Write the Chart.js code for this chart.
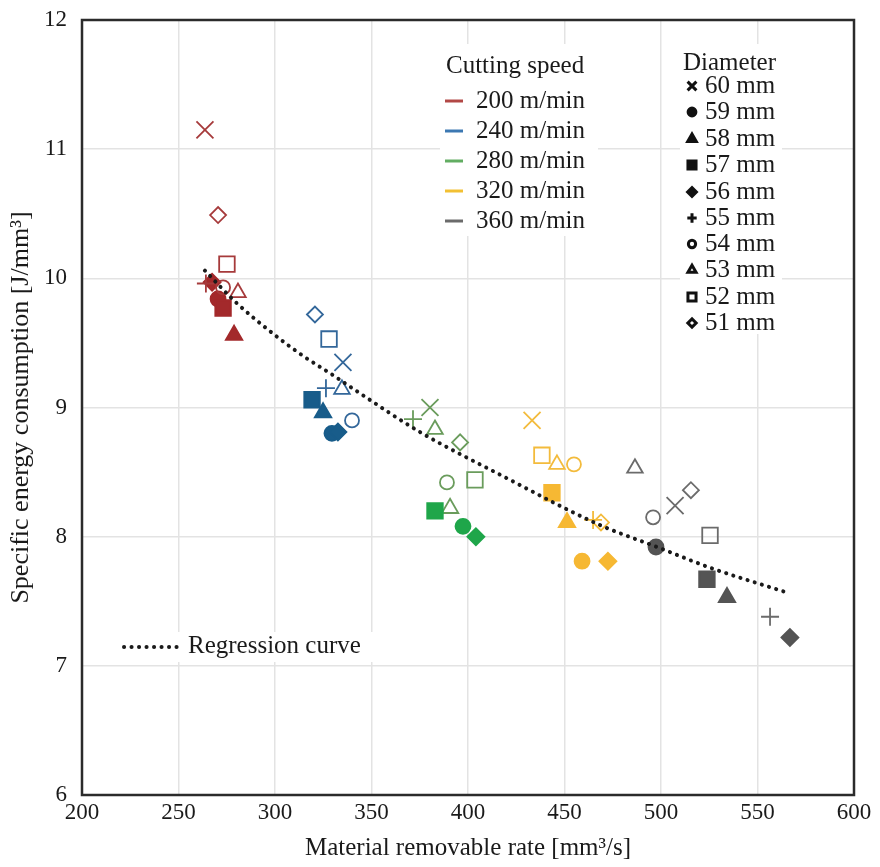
<!DOCTYPE html>
<html>
<head>
<meta charset="utf-8">
<script src="https://cdn.jsdelivr.net/npm/chart.js@4.4.1/dist/chart.umd.min.js"></script>
<style>
  html, body { margin: 0; padding: 0; background: #fff; }
  #wrap { width: 880px; height: 867px; }
</style>
</head>
<body>
<div id="wrap"><canvas id="chart"></canvas></div>
<script>
// Values, each list ordered by diameter 60 mm ... 51 mm
const diameters = ['60 mm', '59 mm', '58 mm', '57 mm', '56 mm', '55 mm', '54 mm', '53 mm', '52 mm', '51 mm'];
const speeds = ['200 m/min', '240 m/min', '280 m/min', '320 m/min', '360 m/min'];

const mrr200 = [263.7, 270.5, 278.8, 273.1, 267.4, 264.2, 273.1, 280.8, 275.1, 270.5];
const sec200 = [11.15, 9.84, 9.56, 9.77, 9.97, 9.96, 9.93, 9.89, 10.11, 10.49];
const mrr240 = [335.2, 329.5, 324.9, 319.2, 332.6, 326.4, 339.9, 334.7, 328.0, 320.7];
const sec240 = [9.35, 8.80, 8.96, 9.06, 8.81, 9.15, 8.90, 9.14, 9.53, 9.72];
const mrr280 = [380.3, 397.4, 390.7, 382.9, 404.1, 371.5, 389.1, 382.9, 403.6, 395.9];
const sec280 = [9.00, 8.08, 8.22, 8.20, 8.00, 8.91, 8.42, 8.83, 8.44, 8.73];
const mrr320 = [433.2, 459.1, 451.3, 443.5, 472.5, 464.8, 454.9, 446.1, 438.3, 468.9];
const sec320 = [8.90, 7.81, 8.11, 8.34, 7.81, 8.13, 8.56, 8.56, 8.63, 8.11];
const mrr360 = [507.3, 497.4, 534.2, 523.8, 566.8, 556.5, 495.9, 486.5, 525.4, 515.5];
const sec360 = [8.24, 7.92, 7.53, 7.67, 7.22, 7.38, 8.15, 8.53, 8.01, 8.36];

// regression curve
const regX = [263.7, 279.3, 300.0, 315.5, 331.1, 344.0, 375.1, 416.6, 468.4, 497.9, 525.4, 566.8];
const regY = [10.06, 9.82, 9.56, 9.39, 9.24, 9.11, 8.81, 8.48, 8.09, 7.92, 7.76, 7.56];

const xTicks = [200, 250, 300, 350, 400, 450, 500, 550, 600];
const yTicks = [6, 7, 8, 9, 10, 11, 12];

// marker styling per diameter
const markerStyle = ['crossRot', 'circle', 'triangle', 'rect', 'rectRot', 'cross', 'circle', 'triangle', 'rect', 'rectRot'];
const markerRadius = [12, 7.5, 9.5, 11, 8.5, 9, 7, 9, 11, 8];
const markerFilled = [false, true, true, true, true, false, false, false, false, false];

const speedColors = [
  { fill: '#a3292b', line: '#a63a3b', legend: '#b24846' },
  { fill: '#185c8a', line: '#33679a', legend: '#3c78b2' },
  { fill: '#1fa64a', line: '#6a9c5c', legend: '#62ad62' },
  { fill: '#f6b833', line: '#f3bb3c', legend: '#f2c033' },
  { fill: '#545454', line: '#6b6b6b', legend: '#6b6b6b' }
];

const FONT = "'Liberation Serif', 'Times New Roman', serif";

const seriesX = [mrr200, mrr240, mrr280, mrr320, mrr360];
const seriesY = [sec200, sec240, sec280, sec320, sec360];

const datasets = speeds.map((s, i) => {
  const col = speedColors[i];
  // the 58 mm point at 280 m/min is drawn hollow in the figure
  const filled = markerFilled.map((f, k) => f && !(i === 2 && k === 2));
  return {
    type: 'scatter',
    label: s,
    order: 1,
    data: seriesX[i].map((x, k) => ({ x: x, y: seriesY[i][k] })),
    pointStyle: markerStyle,
    pointRadius: markerRadius,
    pointHoverRadius: markerRadius,
    pointBorderWidth: 1.8,
    pointBorderColor: filled.map(f => f ? col.fill : col.line),
    pointBackgroundColor: filled.map(f => f ? col.fill : 'rgba(0,0,0,0)')
  };
});

datasets.push({
  type: 'line',
  label: 'Regression curve',
  order: 0,
  data: regX.map((x, k) => ({ x: x, y: regY[k] })),
  borderColor: '#1a1a1a',
  borderWidth: 4,
  borderDash: [0.1, 7.4],
  borderCapStyle: 'round',
  cubicInterpolationMode: 'monotone',
  pointRadius: 0,
  fill: false
});

const legendsPlugin = {
  id: 'legends',
  beforeDatasetsDraw(chart) {
    const ctx = chart.ctx;
    ctx.save();
    ctx.fillStyle = '#fff';
    ctx.fillRect(440, 44, 158, 192);
    ctx.fillRect(680, 44, 102, 290);
    ctx.fillRect(116, 632, 258, 30);

    ctx.font = '25px ' + FONT;
    ctx.textBaseline = 'middle';
    ctx.textAlign = 'left';
    ctx.fillStyle = '#1a1a1a';
    ctx.fillText('Cutting speed', 446, 66);
    const rowsS = [101, 131, 161, 191, 221];
    speeds.forEach((s, i) => {
      ctx.strokeStyle = speedColors[i].legend;
      ctx.lineWidth = 3;
      ctx.beginPath();
      ctx.moveTo(445, rowsS[i]);
      ctx.lineTo(463, rowsS[i]);
      ctx.stroke();
      ctx.fillStyle = '#1a1a1a';
      ctx.fillText(s, 476, rowsS[i]);
    });

    ctx.fillStyle = '#1a1a1a';
    ctx.fillText('Diameter', 683, 63);
    const rowsD = [86, 112, 139, 165, 192, 218, 244, 270, 297, 323];
    diameters.forEach((d, k) => {
      ctx.fillStyle = markerFilled[k] ? '#111' : 'rgba(0,0,0,0)';
      ctx.strokeStyle = '#111';
      Chart.helpers.drawPoint(ctx, {
        pointStyle: markerStyle[k],
        radius: markerRadius[k] * 0.52,
        borderWidth: 1.8,
        rotation: 0
      }, 692, rowsD[k]);
      ctx.fillStyle = '#1a1a1a';
      ctx.fillText(d, 705, rowsD[k]);
    });

    // regression curve legend
    ctx.strokeStyle = '#1a1a1a';
    ctx.lineWidth = 4;
    ctx.lineCap = 'round';
    ctx.setLineDash([0.1, 7.4]);
    ctx.beginPath();
    ctx.moveTo(124, 647);
    ctx.lineTo(178, 647);
    ctx.stroke();
    ctx.setLineDash([]);
    ctx.fillStyle = '#1a1a1a';
    ctx.fillText('Regression curve', 188, 646);
    ctx.restore();
  },
  afterDraw(chart) {
    const a = chart.chartArea;
    const ctx = chart.ctx;
    ctx.save();
    ctx.strokeStyle = '#2b2b2b';
    ctx.lineWidth = 2.5;
    ctx.strokeRect(a.left, a.top, a.right - a.left, a.bottom - a.top);
    ctx.restore();
  }
};

new Chart(document.getElementById('chart'), {
  type: 'scatter',
  data: { datasets: datasets },
  plugins: [legendsPlugin],
  options: {
    responsive: true,
    maintainAspectRatio: false,
    animation: false,
    layout: { padding: { top: 20, right: 26, left: 0, bottom: 0 } },
    plugins: {
      legend: { display: false },
      tooltip: { enabled: false }
    },
    scales: {
      x: {
        type: 'linear',
        min: 200,
        max: 600,
        afterFit: s => { s.height = 72; s.paddingLeft = 0; s.paddingRight = 0; },
        afterBuildTicks: s => { s.ticks = xTicks.map(v => ({ value: v })); },
        grid: { color: '#e3e3e3', lineWidth: 1.5, drawTicks: false },
        border: { display: false },
        ticks: { color: '#1a1a1a', font: { family: FONT, size: 23 }, padding: 4, maxRotation: 0 },
        title: {
          display: true,
          text: 'Material removable rate [mm³/s]',
          color: '#1a1a1a',
          font: { family: FONT, size: 25 },
          padding: { top: 0, bottom: 4 }
        }
      },
      y: {
        type: 'linear',
        min: 6,
        max: 12,
        afterFit: s => { s.width = 82; s.paddingTop = 0; s.paddingBottom = 0; },
        afterBuildTicks: s => { s.ticks = yTicks.map(v => ({ value: v })); },
        grid: { color: '#e3e3e3', lineWidth: 1.5, drawTicks: false },
        border: { display: false },
        ticks: { color: '#1a1a1a', font: { family: FONT, size: 23 }, padding: 15 },
        title: {
          display: true,
          text: 'Specific energy consumption [J/mm³]',
          color: '#1a1a1a',
          font: { family: FONT, size: 26 },
          padding: { top: 6, bottom: 0 }
        }
      }
    }
  }
});
</script>
</body>
</html>
